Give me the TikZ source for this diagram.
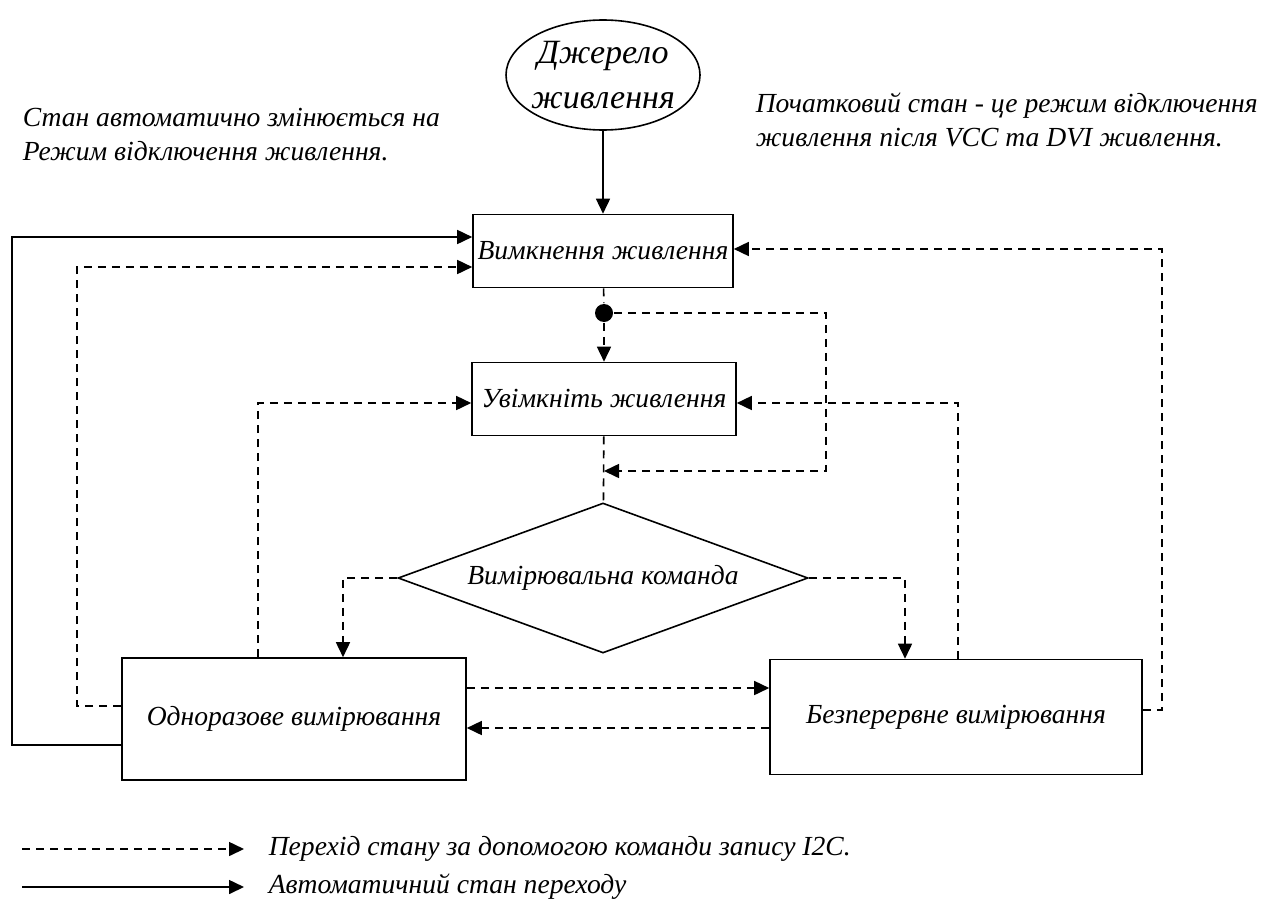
\documentclass[tikz,border=0pt]{standalone}
\usepackage{fontspec}
\setmainfont{Liberation Serif}
\usetikzlibrary{arrows.meta, positioning, shapes.geometric}

\begin{document}
\begin{tikzpicture}[x=0.5pt, y=-0.5pt, line width=0.8pt,
    every node/.style={font=\fontsize{13.8}{17}\selectfont\itshape},
    box/.style={rectangle, draw, inner sep=2pt},
    decision/.style={diamond, draw, aspect=2.73, inner sep=0pt, minimum width=205pt, minimum height=75pt},
    source/.style={ellipse, draw, minimum width=97pt, minimum height=55pt},
    junction/.style={circle, fill, minimum size=9pt, inner sep=0pt},
    note/.style={align=left, inner sep=0pt},
    wrline/.style={dash pattern=on 4pt off 3pt, -{Triangle[length=7.5pt,width=7pt]}},
    autoline/.style={-{Triangle[length=7.5pt,width=7pt]}}]
    \useasboundingbox (0,0) rectangle (1277,915);

    % states
    \node[source, label={[align=center, font=\fontsize{17}{22.5}\selectfont\itshape]center:Джерело\\живлення}] (src) at (603,75) {};
    \node[box, minimum width=130pt, minimum height=36.5pt] (pwroff) at (603,251) {Вимкнення живлення};
    \node[junction] (dot) at (604,313) {};
    \node[box, minimum width=132pt, minimum height=36.5pt] (pwron) at (604,399) {Увімкніть живлення};
    \node[decision] (cmd) at (603,578) {Вимірювальна команда};
    \node[box, minimum width=172pt, minimum height=61pt] (single) at (294,719) {Одноразове вимірювання};
    \node[box, minimum width=186pt, minimum height=57.5pt] (cont) at (956,717) {Безперервне вимірювання};
    \coordinate (junc) at (604,471);

    % notes
    \node[note, anchor=west] (noteL) at (22,135) {Стан автоматично змінюється на\\Режим відключення живлення.};
    \node[note, anchor=west] (noteR) at (755,120) {Початковий стан - це режим відключення\\живлення після VCC та DVI живлення.};

    % transitions
    \draw[autoline] (src) -- (pwroff);
    \draw[dash pattern=on 4pt off 3pt] (pwroff) -- (dot);
    \draw[wrline] (dot) -- (pwron);
    \draw[wrline] (dot.east) -| (826,471) -- (junc);
    \draw[dash pattern=on 4pt off 3pt] (pwron) -- (cmd);
    \draw[wrline] (cmd.west) -| (single.north -| 343,0);
    \draw[wrline] (cmd.east) -| (cont.north -| 905,0);
    \draw[wrline] (single.east |- 0,688) -- (cont.west |- 0,688);
    \draw[wrline] (cont.west |- 0,728) -- (single.east |- 0,728);
    \draw[wrline] (single.north -| 258,0) |- (pwron.west |- 0,403);
    \draw[wrline] (cont.north -| 958,0) |- (pwron.east |- 0,403);
    \draw[wrline] (single.west |- 0,706) -- (77,706) |- (pwroff.west |- 0,267);
    \draw[autoline] (single.west |- 0,745) -- (12,745) |- (pwroff.west |- 0,237);
    \draw[wrline] (cont.east |- 0,710) -- (1162,710) |- (pwroff.east |- 0,249);

    % legend
    \coordinate (lgwrA) at (22,849);
    \coordinate (lgwrB) at (244,849);
    \coordinate (lgautoA) at (22,887);
    \coordinate (lgautoB) at (244,887);
    \draw[wrline] (lgwrA) -- (lgwrB);
    \draw[autoline] (lgautoA) -- (lgautoB);
    \node[note, anchor=west] (lgwr) at (268,849) {Перехід стану за допомогою команди запису I2C.};
    \node[note, anchor=west] (lgauto) at (268,887) {Автоматичний стан переходу};
\end{tikzpicture}
\end{document}
